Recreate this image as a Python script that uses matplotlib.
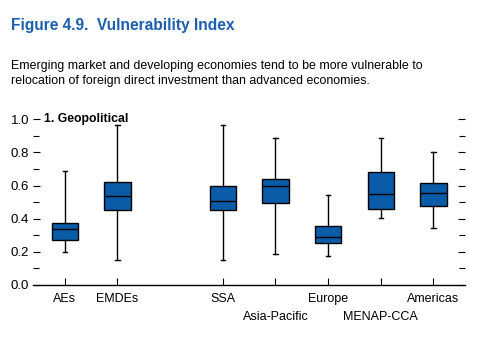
import matplotlib
matplotlib.use("Agg")
import matplotlib.pyplot as plt
from matplotlib.ticker import MultipleLocator

plt.rcParams['font.family'] = ['Liberation Sans', 'DejaVu Sans']

categories = ["AEs", "EMDEs", "SSA", "Asia-Pacific", "Europe", "MENAP-CCA", "Americas"]
positions = [0, 1, 3, 4, 5, 6, 7]
whislo = [0.197, 0.149, 0.149, 0.185, 0.175, 0.404, 0.344]
q1 = [0.270, 0.453, 0.453, 0.493, 0.252, 0.459, 0.475]
med = [0.336, 0.535, 0.505, 0.600, 0.288, 0.547, 0.553]
q3 = [0.376, 0.620, 0.600, 0.638, 0.354, 0.680, 0.614]
whishi = [0.690, 0.964, 0.964, 0.890, 0.545, 0.890, 0.800]
lower_labels = ["Asia-Pacific", "MENAP-CCA"]

box_color = "#0a5ca8"
title_color = "#1b5fae"

stats = []
for i, name in enumerate(categories):
    stats.append(dict(label=name, whislo=whislo[i], q1=q1[i], med=med[i],
                      q3=q3[i], whishi=whishi[i], fliers=[]))

fig = plt.figure(figsize=(4.88, 3.40), dpi=100)
ax = fig.add_axes([0.068, 0.162, 0.885, 0.487])

ax.bxp(stats, positions=positions, widths=0.5, patch_artist=True, showfliers=False,
       boxprops=dict(facecolor=box_color, edgecolor="black", linewidth=1.0),
       medianprops=dict(color="black", linewidth=1.0),
       whiskerprops=dict(color="black", linewidth=1.0),
       capprops=dict(color="black", linewidth=1.0),
       capwidths=0.08)

ax.set_xlim(-0.6, 7.6)
ax.set_ylim(0, 1.0)
ax.yaxis.set_major_locator(MultipleLocator(0.2))
ax.yaxis.set_minor_locator(MultipleLocator(0.1))
ax.set_yticklabels([f"{v:.1f}" for v in ax.get_yticks()])

for s in ["top", "left", "right"]:
    ax.spines[s].set_visible(False)
ax.spines["bottom"].set_linewidth(1.0)

ax.tick_params(axis="y", which="both", left=True, right=True, direction="in",
               labelsize=9.5, pad=3, width=0.8)
ax.tick_params(axis="y", which="major", length=5)
ax.tick_params(axis="y", which="minor", length=4)
ax.tick_params(axis="x", direction="in", length=5, width=0.8, labelsize=9, pad=6)

ax.set_xticks(positions)
ax.set_xticklabels(categories)
# stagger the two long labels onto a second row
for tick, name in zip(ax.xaxis.get_major_ticks(), categories):
    if name in lower_labels:
        tick.set_pad(19)

ax.text(0.025, 1.0, "1. Geopolitical", transform=ax.transAxes, fontsize=8.8,
        fontweight="bold", va="center", ha="left")

fig.text(0.022, 0.926, "Figure 4.9.  Vulnerability Index", fontsize=11.2,
         fontweight="bold", color=title_color, va="center", ha="left")
fig.text(0.022, 0.785, "Emerging market and developing economies tend to be more vulnerable to\n"
         "relocation of foreign direct investment than advanced economies.",
         fontsize=8.9, va="center", ha="left", linespacing=1.35)

fig.savefig("out.png", dpi=100)
